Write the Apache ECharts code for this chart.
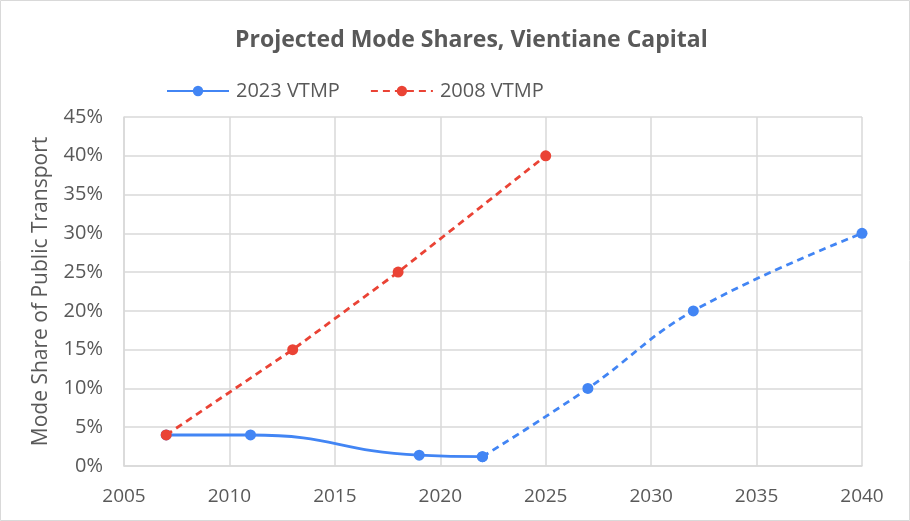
<!DOCTYPE html>
<html>
<head>
<meta charset="utf-8">
<script src="https://cdn.jsdelivr.net/npm/echarts@6/dist/echarts.min.js"></script>
<style>
  html, body { margin: 0; padding: 0; background: #fff; }
  #chart { width: 910px; height: 521px; }
</style>
</head>
<body>
<div id="chart"></div>
<script>
// Mode share of public transport (%), by year
const years2023Actual = [2007, 2011, 2019, 2022];
const share2023Actual = [4, 4, 1.4, 1.2];
const years2023Proj = [2022, 2027, 2032, 2040];
const share2023Proj = [1.2, 10, 20, 30];
const years2008 = [2007, 2013, 2018, 2025];
const share2008 = [4, 15, 25, 40];
const yTicks = [0, 5, 10, 15, 20, 25, 30, 35, 40, 45];
const xTicks = [2005, 2010, 2015, 2020, 2025, 2030, 2035, 2040];

const BLUE = '#4285F4';
const RED = '#EA4335';
const TEXT = '#595959';
const GRID = '#d9d9d9';
const FONT = '"Open Sans", "Noto Sans", sans-serif';

const pairs = (xs, ys) => xs.map((x, i) => [x, ys[i]]);

const chart = echarts.init(document.getElementById('chart'));
chart.setOption({
  animation: false,
  textStyle: { fontFamily: FONT },
  graphic: [{
    type: 'rect',
    shape: { x: 0.5, y: 0.5, width: 909, height: 520 },
    style: { fill: 'none', stroke: '#d9d9d9', lineWidth: 1 },
    silent: true
  }],
  title: {
    text: 'Projected Mode Shares, Vientiane Capital',
    left: 230,
    top: 24,
    textStyle: { fontFamily: FONT, fontSize: 23, fontWeight: 'bold', color: TEXT }
  },
  legend: {
    top: 76,
    left: 161,
    itemWidth: 62,
    itemHeight: 13,
    itemGap: 30,
    data: ['2023 VTMP', '2008 VTMP'],
    textStyle: { fontFamily: FONT, fontSize: 20, color: TEXT, padding: [0, 0, 0, 2] }
  },
  grid: { left: 124, right: 48, top: 117, bottom: 55 },
  xAxis: {
    type: 'value',
    min: xTicks[0],
    max: xTicks[xTicks.length - 1],
    interval: 5,
    axisLine: { show: true, lineStyle: { color: GRID, width: 1.5 } },
    axisTick: { show: false },
    splitLine: { show: true, lineStyle: { color: GRID, width: 1.5 } },
    axisLabel: { color: TEXT, fontSize: 19, margin: 21, fontFamily: FONT, formatter: v => String(v) }
  },
  yAxis: {
    type: 'value',
    min: yTicks[0],
    max: yTicks[yTicks.length - 1],
    interval: 5,
    name: 'Mode Share of Public Transport',
    nameLocation: 'middle',
    nameGap: 72,
    nameTextStyle: { color: TEXT, fontSize: 21, fontFamily: FONT },
    axisLine: { show: true, lineStyle: { color: GRID, width: 1.5 } },
    axisTick: { show: false },
    splitLine: { show: true, lineStyle: { color: GRID, width: 1.5 } },
    axisLabel: { color: TEXT, fontSize: 20, margin: 21, formatter: '{value}%', fontFamily: FONT }
  },
  series: [
    {
      name: '2023 VTMP',
      type: 'line',
      data: pairs(years2023Actual, share2023Actual),
      smooth: 0.5,
      symbol: 'circle',
      symbolSize: 11,
      z: 3,
      itemStyle: { color: BLUE },
      lineStyle: { color: BLUE, width: 2.8 }
    },
    {
      name: '2023 VTMP',
      type: 'line',
      data: pairs(years2023Proj, share2023Proj),
      smooth: 0.4,
      symbol: 'circle',
      symbolSize: 11,
      z: 3,
      itemStyle: { color: BLUE },
      lineStyle: { color: BLUE, width: 2.8, type: [7, 5] }
    },
    {
      name: '2008 VTMP',
      type: 'line',
      data: pairs(years2008, share2008),
      symbol: 'circle',
      symbolSize: 11,
      z: 4,
      itemStyle: { color: RED },
      lineStyle: { color: RED, width: 2.8, type: [7, 5] }
    }
  ]
});
</script>
</body>
</html>
